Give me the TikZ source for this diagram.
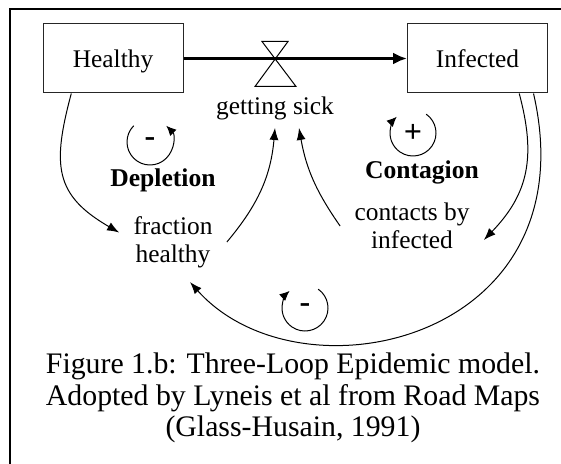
\documentclass[tikz,border=0pt]{standalone}
\usepackage{fontspec}
\setmainfont{Liberation Serif}
\usepackage{tikz}
\usetikzlibrary{arrows.meta}

\begin{document}
\begin{tikzpicture}[x=0.5pt,y=0.5pt,font=\fontsize{12.7pt}{14pt}\selectfont]
            \tikzset{stock/.style = {draw=black!85, line width=0.5pt, minimum width=70pt, minimum height=34.5pt, text height=11pt, text depth=2pt}}
            \tikzset{flow/.style = {-{Latex[length=7pt,width=6pt]}, line width=1.5pt}}
            \tikzset{link/.style = {-{Latex[length=6pt,width=4.5pt]}, line width=0.5pt}}
            \tikzset{loopedge/.style = {-{Latex[length=5pt,width=4.5pt]}, line width=0.5pt}}
            \tikzset{aux/.style = {inner sep=7pt, align=center}}
            \tikzset{loopname/.style = {font=\fontsize{12.8pt}{14pt}\selectfont\bfseries}}
            \tikzset{loopsign/.style = {font=\fontsize{16pt}{16pt}\selectfont\bfseries}}

            \useasboundingbox (0,0) rectangle (561,-464);

            % frame
            \draw[line width=1.3pt] (10,-464) -- (10,-9) -- (561,-9);

            % stocks
            \node[stock] (healthy) at (113,-58.5) {Healthy};
            \node[stock] (infected) at (477.5,-58.5) {Infected};

            % valve and flow
            \coordinate (valve) at (275,-58.5);
            \draw[line width=0.5pt] ([shift={(-13,17)}]valve) -- ([shift={(21,-28)}]valve)
                -- ([shift={(-20,-28)}]valve) -- ([shift={(13,17)}]valve) -- cycle;
            \draw[flow] (healthy) -- (infected);
            \node[inner sep=4pt] (sick) at (275,-108) {getting sick};

            % auxiliaries
            \node[aux] (fraction) at (173,-242) {fraction\\healthy};
            \node[aux] (contacts) at (412,-226) {contacts by\\infected};

            % links
            \draw[link] (healthy.220) to [out=255,in=150,looseness=1.3] (fraction.170);
            \draw[link] (fraction.east) to [out=50,in=-95] (sick.south);
            \draw[link] (contacts.west) to [out=125,in=-80] ([xshift=12pt]sick.south);
            \draw[link] (infected.-40) to [out=-75,in=46,looseness=1.1] (contacts.-11);
            \draw[link] (infected.-32) .. controls +(57,-248) and +(110,-123) .. (fraction.-67);

            % depletion loop
            \node[loopsign] (depsign) at (150,-142) {-};
            \draw[loopedge] ([shift={(135:11.5pt)}]depsign.center) arc [start angle=135, end angle=405, radius=11.5pt];
            \node[loopname] (depletion) at (163,-180) {Depletion};

            % contagion loop
            \node[loopsign] (consign) at (413,-133) {+};
            \draw[loopedge] ([shift={(55:11.5pt)}]consign.center) arc [start angle=55, end angle=-225, radius=11.5pt];
            \node[loopname] (contagion) at (422,-172) {Contagion};

            % third loop
            \node[loopsign] (botsign) at (305,-308) {-};
            \draw[loopedge] ([shift={(55:11.5pt)}]botsign.center) arc [start angle=55, end angle=-228, radius=11.5pt];

            % caption
            \node[align=center, font=\fontsize{14.9pt}{15.75pt}\selectfont] (caption) at (293,-398)
                {Figure 1.b: Three-Loop Epidemic model.\\Adopted by Lyneis et al from Road Maps\\(Glass-Husain, 1991)};

\end{tikzpicture}
\end{document}
